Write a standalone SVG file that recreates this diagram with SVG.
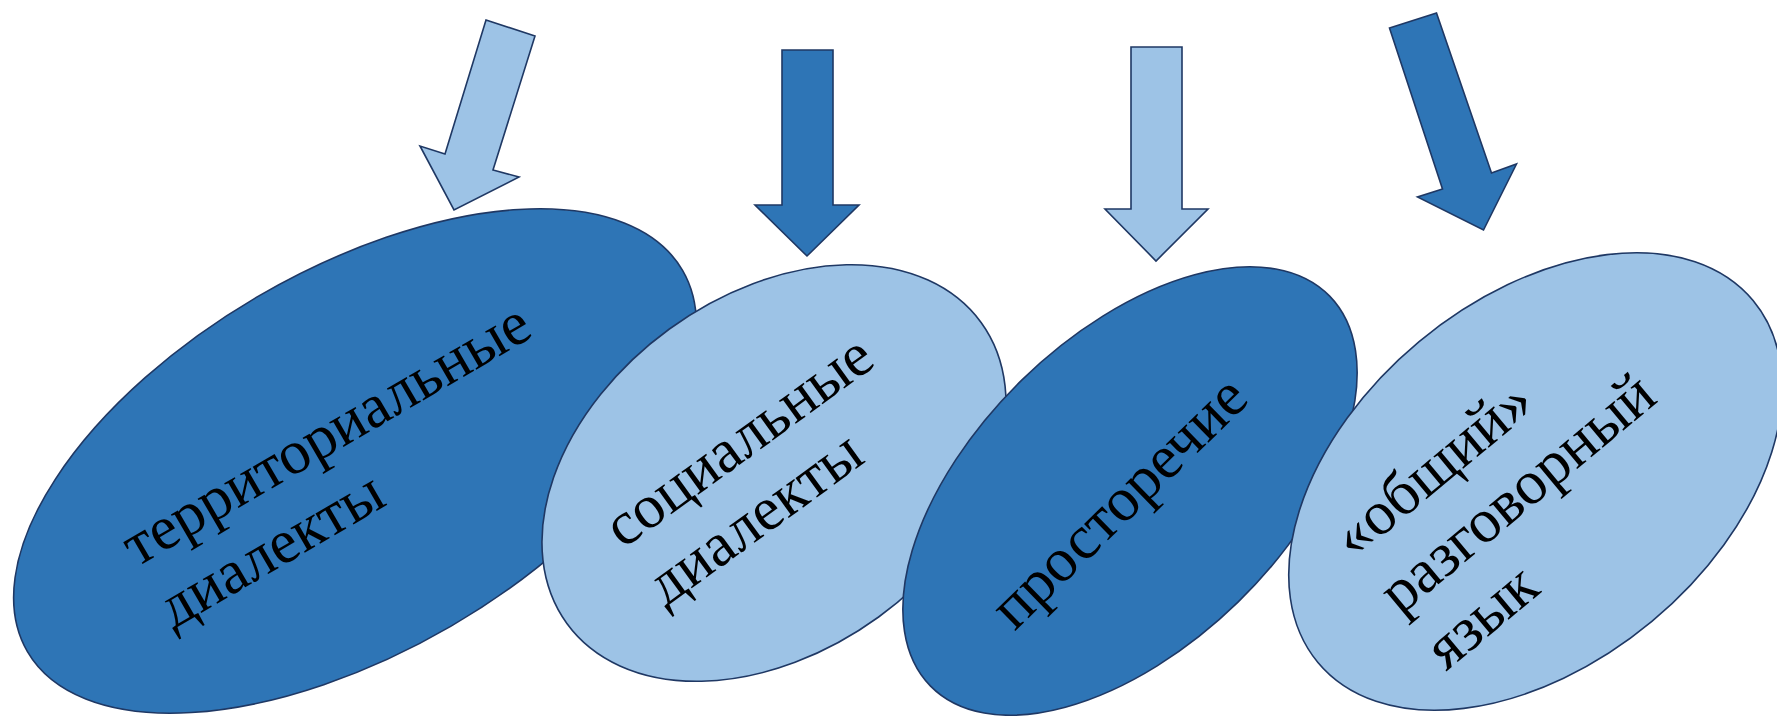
<svg xmlns="http://www.w3.org/2000/svg" width="1777" height="716" viewBox="0 0 1777 716">
<style>
.dark{fill:#2E75B6;stroke:#1F3864;stroke-width:1.6}
.light{fill:#9DC3E6;stroke:#1F3864;stroke-width:1.6}
.lbl{font-family:"Liberation Serif","Times New Roman",serif;font-size:62px;fill:#000}
</style>
<rect width="1777" height="716" fill="#fff"/>
<g id="arrows">
<polygon class="light" points="486,20 535,36 493,170 519,177 454,210 420,146 445,154"/>
<polygon class="dark" points="782,50 833,50 833,205 859,205 807,256 755,205 782,205"/>
<polygon class="light" points="1131,47 1182,47 1182,209 1208,209 1156,261 1105,209 1131,209"/>
<polygon class="dark" points="1389.5,28 1436.5,13 1491.5,173 1516.5,164 1483.5,230 1417.5,197 1442.5,189"/>
</g>
<g id="node1" transform="translate(355,461) rotate(-30.2)">
<ellipse class="dark" cx="0" cy="0" rx="379" ry="191"/>
<text class="lbl" x="-242" y="-18">территориальные</text>
<text class="lbl" x="-242" y="54">диалекты</text>
</g>
<g id="node2" transform="translate(774,473) rotate(-36)">
<ellipse class="light" cx="0" cy="0" rx="256" ry="178"/>
<text class="lbl" x="-167" y="-27">социальные</text>
<text class="lbl" x="-167" y="45">диалекты</text>
</g>
<g id="node3" transform="translate(1130,491) rotate(-44.3)">
<ellipse class="dark" cx="0" cy="0" rx="279" ry="155"/>
<text class="lbl" x="-181" y="20">просторечие</text>
</g>
<g id="node4" transform="translate(1535.5,481.5) rotate(-39.75)">
<ellipse class="light" cx="0" cy="0" rx="283" ry="182"/>
<text class="lbl" x="-190" y="-56">«общий»</text>
<text class="lbl" x="-190" y="17">разговорный</text>
<text class="lbl" x="-190" y="89">язык</text>
</g>
</svg>
